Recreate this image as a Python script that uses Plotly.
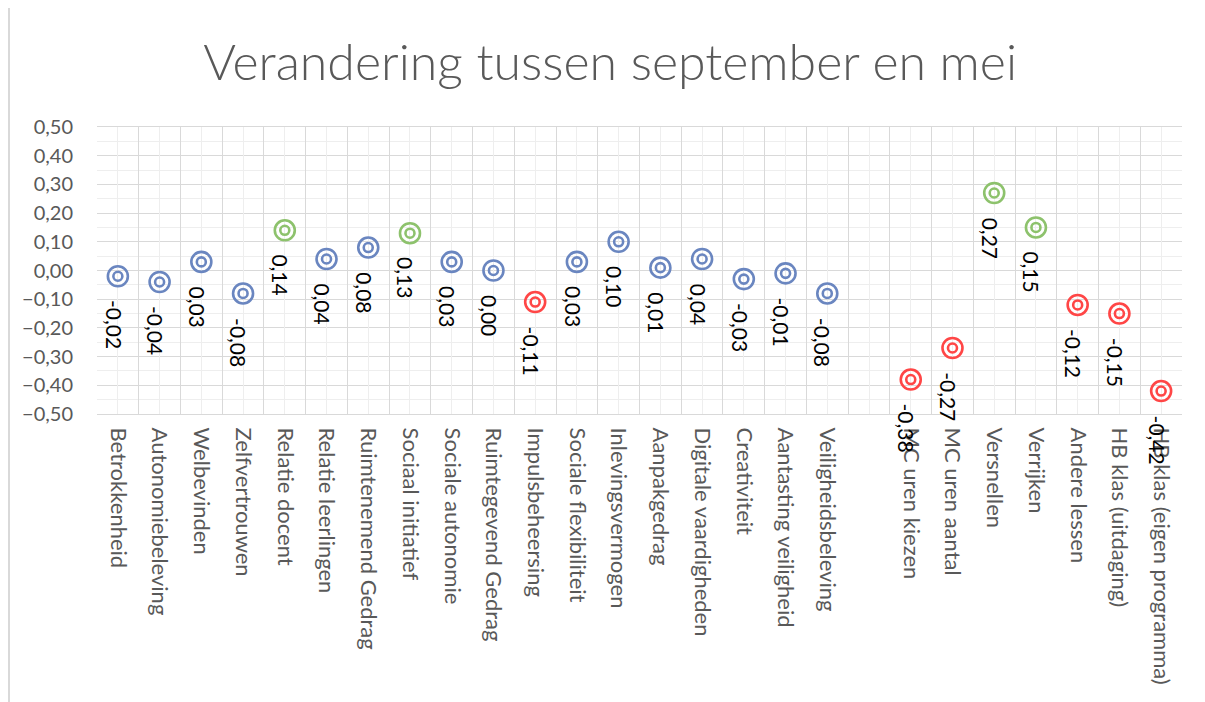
import plotly.graph_objects as go

categories = ["Betrokkenheid", "Autonomiebeleving", "Welbevinden", "Zelfvertrouwen",
              "Relatie docent", "Relatie leerlingen", "Ruimtenemend Gedrag", "Sociaal initiatief",
              "Sociale autonomie", "Ruimtegevend Gedrag", "Impulsbeheersing", "Sociale flexibiliteit",
              "Inlevingsvermogen", "Aanpakgedrag", "Digitale vaardigheden", "Creativiteit",
              "Aantasting veiligheid", "Veiligheidsbeleving", " ",
              "MC uren kiezen", "MC uren aantal", "Versnellen", "Verrijken", "Andere lessen",
              "HB klas (uitdaging)", "HB klas (eigen programma)"]
values = [-0.02, -0.04, 0.03, -0.08, 0.14, 0.04, 0.08, 0.13, 0.03, 0.00, -0.11, 0.03,
          0.10, 0.01, 0.04, -0.03, -0.01, -0.08, None,
          -0.38, -0.27, 0.27, 0.15, -0.12, -0.15, -0.42]
groups = ["n", "n", "n", "n", "g", "n", "n", "g", "n", "n", "r", "n",
          "n", "n", "n", "n", "n", "n", None,
          "r", "r", "g", "g", "r", "r", "r"]
yticks = [0.5, 0.4, 0.3, 0.2, 0.1, 0.0, -0.1, -0.2, -0.3, -0.4, -0.5]

palette = {"n": "#6A86C0", "g": "#8DC26C", "r": "#FF4646", None: "rgba(0,0,0,0)"}
colors = [palette[g] for g in groups]

LABEL_SIZE = 21
W, H = 1197, 694  # page adds an 8px body margin


def fmt(v):
    s = f"{v:.2f}".replace(".", ",")
    return "0,00" if s == "-0,00" else s


def label_len(s):
    w = 0.0
    for ch in s:
        if ch.isdigit():
            w += 0.58
        elif ch == ",":
            w += 0.25
        elif ch == "-":
            w += 0.36
    return w * LABEL_SIZE


fig = go.Figure()
fig.add_trace(go.Scatter(x=categories, y=values, mode="markers",
                         marker=dict(symbol="circle-open", size=20, color=colors,
                                     line=dict(width=2.6)),
                         hoverinfo="skip", showlegend=False))
fig.add_trace(go.Scatter(x=categories, y=values, mode="markers",
                         marker=dict(symbol="circle-open", size=9, color=colors,
                                     line=dict(width=2.6)),
                         hoverinfo="skip", showlegend=False))
fig.add_trace(go.Scatter(x=list(range(len(categories))), y=[None] * len(categories),
                         xaxis="x2", yaxis="y", showlegend=False, hoverinfo="skip"))

for c, v in zip(categories, values):
    if v is None:
        continue
    t = fmt(v)
    fig.add_annotation(x=c, y=v, xref="x", yref="y", text=t,
                       textangle=90, showarrow=False, xanchor="center", yanchor="middle",
                       yshift=-(24 + label_len(t) / 2), xshift=-4,
                       font=dict(family="Lato", size=LABEL_SIZE, color="#000000"))

fig.update_layout(
    width=W, height=H,
    margin=dict(l=89, r=23, t=119, b=288, autoexpand=False),
    paper_bgcolor="white", plot_bgcolor="white",
    separators=",.",
    title=dict(text="Verandering tussen september en mei", x=0.503, xref="container",
               xanchor="center", y=0.922, yanchor="middle",
               font=dict(family="Lato", size=50, color="#595959", weight=300)),
    xaxis=dict(type="category", categoryorder="array", categoryarray=categories,
               range=[-0.5, len(categories) - 0.5], automargin=False,
               tickson="boundaries", showgrid=True, gridcolor="#D9D9D9", gridwidth=1.3,
               tickangle=90, ticks="", showline=True, linecolor="#D9D9D9", linewidth=1.3,
               mirror=True, ticklabelstandoff=8,
               tickfont=dict(family="Lato", size=22, color="#595959"), zeroline=False),
    xaxis2=dict(overlaying="x", range=[-0.5, len(categories) - 0.5],
                tickvals=list(range(len(categories))), showticklabels=False,
                showgrid=True, gridcolor="#EEEEEE", gridwidth=1, zeroline=False, ticks="",
                automargin=False),
    yaxis=dict(range=[-0.5, 0.5], tickvals=yticks, tickformat=".2f", automargin=False,
               showgrid=True, gridcolor="#D9D9D9", gridwidth=1.3, zeroline=False,
               minor=dict(dtick=0.05, showgrid=True, gridcolor="#EEEEEE", gridwidth=1),
               ticks="", ticklabelstandoff=23,
               tickfont=dict(family="Lato", size=20, color="#595959")),
)
fig.add_shape(type="line", xref="paper", yref="paper",
              x0=-88 / 1085, x1=-88 / 1085, y0=-288 / 287, y1=119 / 287 + 1,
              line=dict(color="#D9D9D9", width=2))
fig.write_html("out.html")
